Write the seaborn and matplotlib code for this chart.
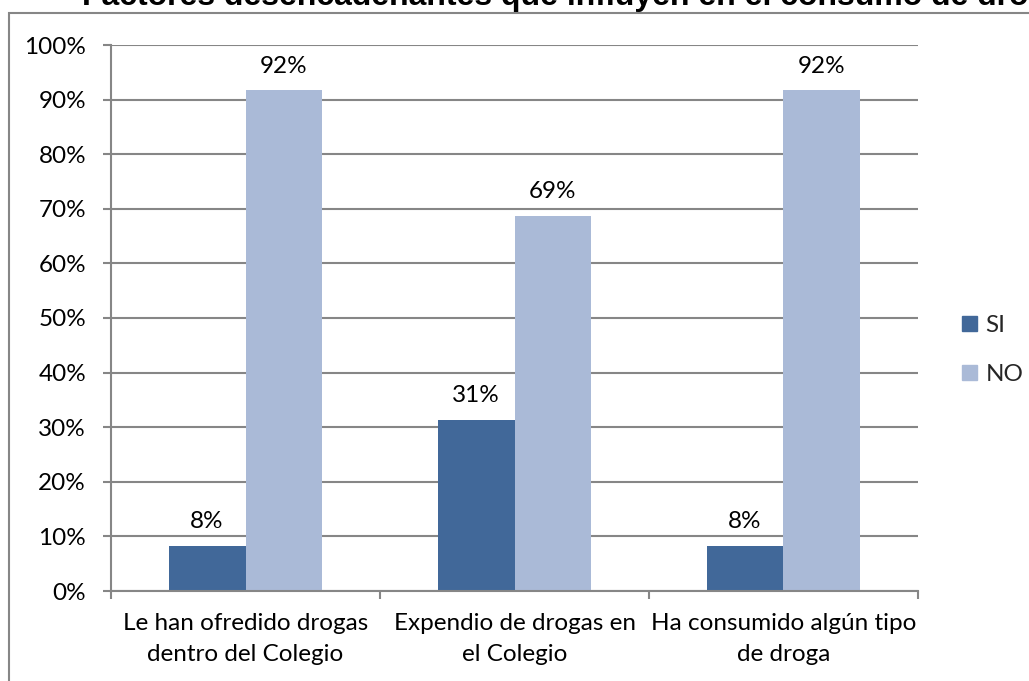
import matplotlib
matplotlib.use("Agg")
import matplotlib.pyplot as plt
from matplotlib.patches import Rectangle
from matplotlib.ticker import PercentFormatter, FixedLocator
import seaborn as sns
import pandas as pd

categories = [
    "Le han ofredido drogas\ndentro del Colegio",
    "Expendio de drogas en\nel Colegio",
    "Ha consumido algún tipo\nde droga",
]
si_values = [8.33, 31.25, 8.33]
no_values = [91.67, 68.75, 91.67]
series_names = ["SI", "NO"]
series_colors = ["#416899", "#AABAD7"]
title = "Factores desencadenantes que influyen en el consumo de drogas"

df = pd.DataFrame({
    "categoria": categories * 2,
    "serie": [series_names[0]] * 3 + [series_names[1]] * 3,
    "valor": si_values + no_values,
})

sns.set_theme(style="white")
plt.rcParams["font.family"] = ["Lato", "DejaVu Sans"]

W, H = 1029, 681
FS = 17.5
fig = plt.figure(figsize=(W / 100, H / 100), dpi=100)
ax = fig.add_axes([111 / W, 1 - 591 / H, (918 - 111) / W, (591 - 45) / H])

sns.barplot(data=df, x="categoria", y="valor", hue="serie",
            palette=series_colors, width=0.572, gap=0, saturation=1,
            linewidth=0, ax=ax, legend=False)

grid_color = "#868686"
ax.set_ylim(0, 100)
ax.set_xlim(-0.5, 2.5)
ax.set_yticks(range(0, 101, 10))
ax.yaxis.set_major_formatter(PercentFormatter(decimals=0))
ax.yaxis.grid(True, color=grid_color, linewidth=1.5)
ax.set_axisbelow(True)
ax.set_xlabel("")
ax.set_ylabel("")

for side in ("top", "right"):
    ax.spines[side].set_visible(False)
for side in ("left", "bottom"):
    ax.spines[side].set_color(grid_color)
    ax.spines[side].set_linewidth(1.5)

ax.tick_params(axis="y", which="major", left=True, length=6, width=1.5,
               color=grid_color, pad=12, labelsize=FS, labelcolor="black")
ax.tick_params(axis="x", which="major", bottom=False, length=0, pad=16,
               labelsize=FS, labelcolor="black")
ax.xaxis.set_minor_locator(FixedLocator([-0.5, 0.5, 1.5, 2.5]))
ax.tick_params(axis="x", which="minor", bottom=True, length=6, width=1.5,
               color=grid_color)
for lbl in ax.get_xticklabels():
    lbl.set_linespacing(1.55)

for container in ax.containers:
    ax.bar_label(container, labels=[f"{v:.0f}%" for v in container.datavalues],
                 padding=10, fontsize=FS, color="black")

handles = [Rectangle((0, 0), 1, 1, color=c) for c in series_colors]
fig.legend(handles, series_names, loc="center left",
           bbox_to_anchor=(962 / W, 1 - 350 / H), frameon=False,
           borderpad=0, borderaxespad=0,
           fontsize=FS, handlelength=0.62, handleheight=0.62,
           handletextpad=0.35, labelspacing=1.15)

# chart frame
frame = Rectangle((9 / W, 0 - 0.05), 1.2, 1 - 13 / H + 0.05,
                  transform=fig.transFigure, fill=False,
                  edgecolor=grid_color, linewidth=1.5, clip_on=False)
fig.patches.append(frame)

fig.text(82 / W, 1 - 5 / H, title, ha="left", va="baseline",
         fontsize=23, fontweight="bold", family="Liberation Sans", color="black")

fig.savefig("out.png", dpi=100)
